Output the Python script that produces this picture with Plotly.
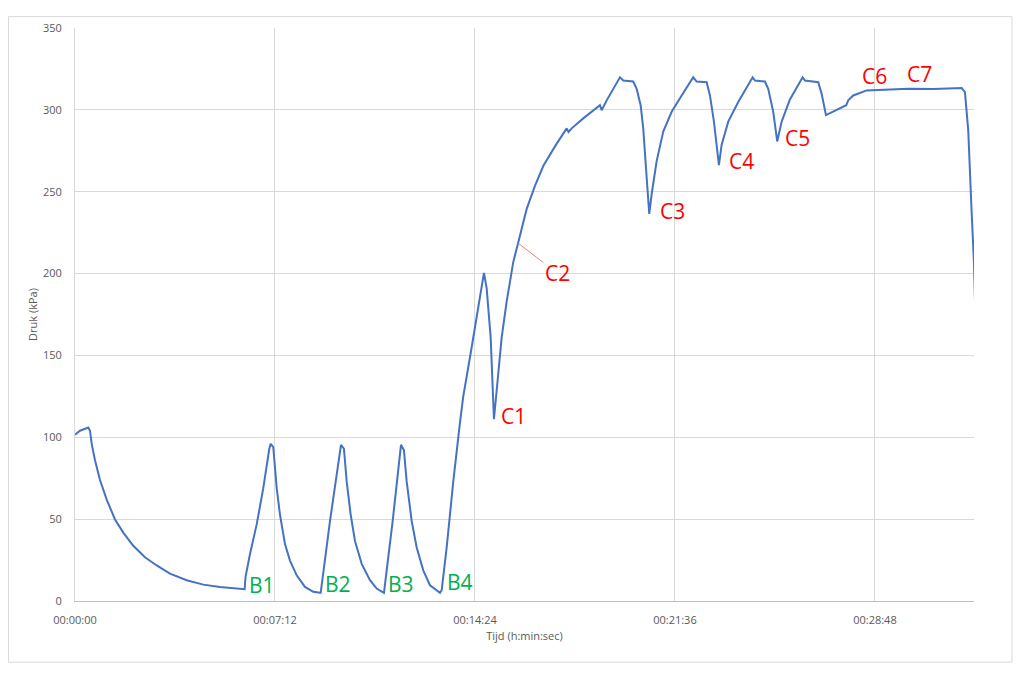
import pandas as pd
import plotly.graph_objects as go

# Pressure log (time in seconds, pressure in kPa)
tijd_s = [
    0, 10.8, 28.7, 32.4, 36.1, 43.2, 54, 68.5, 86.4, 104.3, 125.9, 151.2,
    176.5, 205.2, 241.3, 277.1, 313.2, 349.3, 366.5,
    368.3, 378, 392.5, 406.7, 419.7, 422.7, 428.3, 435.7, 442.8, 453.6, 464.4,
    478.9, 496.8, 514.7, 529.2,
    530.7, 550.8, 574.6, 581, 586.9, 595.5, 604.8, 619.3, 637.2, 651.7, 666,
    667.4, 686.2, 704.2, 710.6, 716.5, 727.3, 738.1, 752.3, 766.8, 788.4,
    792.1, 802.9, 817.1, 831.6, 838.7, 856.9, 883.4, 889.3, 897.9, 905, 910.9,
    921.7, 932.5, 946.7, 957.5, 975.7, 993.6, 1011.5, 1036.8, 1062.1, 1066,
    1072.9, 1097.9, 1126.9, 1134, 1137.7, 1148.5,
    1177.2, 1184.3, 1205.9, 1213.3, 1221.9, 1227.5, 1234.9, 1240.5, 1245.7,
    1256.5, 1270.7, 1288.9, 1310.5, 1335.5, 1342.9, 1364.5, 1371.6, 1380.2,
    1391, 1396.9, 1411.1, 1432.7, 1463.8, 1468.8, 1490.4, 1497.5, 1508.3,
    1516.9, 1526.5, 1544.4, 1571.8, 1576.8, 1605.5, 1612.9, 1622.2, 1652.4,
    1666, 1670.3, 1681.1, 1710.1, 1753.3, 1800, 1853.9, 1890, 1915.3, 1922.4,
    1929.5, 1936.9, 1941.8, 1944.6,
]
druk_kpa = [
    101.6, 104, 106, 104, 96, 86, 73.9, 61.9, 49.8, 41.8, 33.7, 26.7,
    21.7, 16.7, 12.7, 10, 8.6, 7.6, 7.2,
    14.6, 28.7, 46.8, 68.9, 93, 96, 94, 68.9, 52.8, 34.8, 24.7,
    15.7, 8.6, 5.6, 5,
    5, 48.8, 95.4, 93, 72.9, 52.8, 36.7, 22.7, 12.7, 7.6, 5,
    5, 48.8, 95.4, 92, 72.9, 48.8, 32.7, 18.7, 9.6, 5,
    6.6, 32.7, 72.9, 109, 125, 155, 200.4, 191, 161, 111, 129,
    161, 183, 207, 219, 239.5, 253.6, 265.7, 277.7, 288.7, 286.5,
    288.7, 294.8, 300.8, 302.8, 299.8, 305.8,
    319.9, 317.9, 317.3, 312.8, 302.8, 288.7, 258.6, 236.5, 248.6,
    268.7, 286.7, 298.8, 308.8, 319.9, 317.3, 316.9, 308.8, 292.8,
    266.3, 278.7, 292.8, 304.8, 319.9, 317.9, 317.3, 312.8, 298.8,
    280.7, 292.8, 306.4, 319.9, 317.9, 316.9, 309.8, 296.8, 300.8,
    302.8, 305.8, 308.8, 311.9, 312.5, 312.9, 312.8, 313.2, 313.4, 310.8,
    287.8, 237.5, 207.4, 179.3,
]

# Event labels: text, time (s), pressure (kPa), colour
label_text = ["B1", "B2", "B3", "B4", "C1", "C3", "C4", "C5", "C6", "C7"]
label_t = [404, 568, 704, 832, 948, 1290, 1439, 1560, 1728, 1825]
label_p = [9.6, 10.2, 10.2, 11.4, 113, 238, 268.7, 283, 320.5, 321.7]
label_kleur = ["#00B050"] * 4 + ["#FF0000"] * 6

# C2 is drawn with a leader line pointing at the curve
c2_t, c2_p = 957.5, 218.5

x_tijd = pd.to_datetime(tijd_s, unit="s")

fig = go.Figure()
fig.add_trace(go.Scatter(
    x=x_tijd, y=druk_kpa, mode="lines",
    line=dict(color="#4472C4", width=2),
    showlegend=False, hoverinfo="skip",
))

for txt, t, p, kleur in zip(label_text, label_t, label_p, label_kleur):
    fig.add_annotation(
        x=pd.to_datetime(t, unit="s"), y=p, text=txt, showarrow=False,
        font=dict(family="Open Sans", size=21, color=kleur),
    )

fig.add_annotation(
    x=pd.to_datetime(c2_t, unit="s"), y=c2_p, text="C2",
    showarrow=True, arrowhead=0, arrowwidth=1, arrowcolor="#FF7C80",
    ax=39, ay=30, font=dict(family="Open Sans", size=21, color="#FF0000"),
)

# outer chart frame (page has an 8px body margin)
fig.add_shape(
    type="rect", xref="paper", yref="paper",
    x0=-0.074, x1=1.0423, y0=-0.1067, y1=1.0198,
    line=dict(color="#D9D9D9", width=1), layer="below",
)

fig.update_layout(
    width=1016, height=665,
    margin=dict(l=67, r=50, t=12, b=72),
    paper_bgcolor="white", plot_bgcolor="white",
    font=dict(family="Open Sans", size=11, color="#595959"),
)
fig.update_xaxes(
    type="date",
    range=[pd.to_datetime(0, unit="s"), pd.to_datetime(1942, unit="s")],
    tick0=pd.to_datetime(0, unit="s"), dtick=432000, tickformat="%H:%M:%S",
    showgrid=True, gridcolor="#D9D9D9", gridwidth=1,
    showline=True, linecolor="#BFBFBF", linewidth=1,
    ticks="", ticklabelstandoff=9,
    title=dict(text="Tijd (h:min:sec)", font=dict(size=11), standoff=6),
)
fig.update_yaxes(
    range=[0, 350], dtick=50,
    showgrid=True, gridcolor="#D9D9D9", gridwidth=1,
    showline=True, linecolor="#D9D9D9", linewidth=1,
    zeroline=False, ticks="", ticklabelstandoff=10,
    title=dict(text="Druk (kPa)", font=dict(size=11), standoff=3),
)

fig.write_html("out.html")
